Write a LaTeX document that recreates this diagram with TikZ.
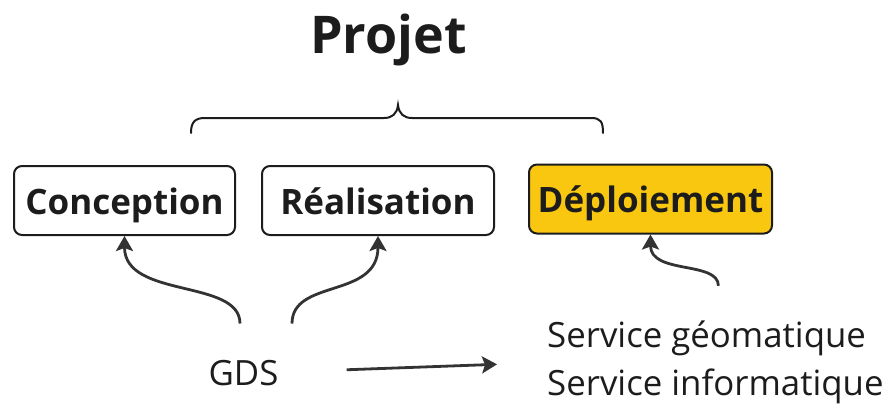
\documentclass[tikz,border=0pt]{standalone}
\usepackage{fontspec}
\setmainfont{Open Sans}
\usepackage{xcolor}
\usepackage{tikz}
\usetikzlibrary{arrows.meta, positioning}
\definecolor{ink}{HTML}{1C1C1C}
\definecolor{wire}{HTML}{333333}
\definecolor{yel}{HTML}{FAC710}

\begin{document}
\begin{tikzpicture}[x=1pt,y=-1pt,
	box/.style={draw=ink, line width=2pt, rounded corners=8pt, minimum height=69pt,
		text height=33pt, text depth=6pt, inner sep=0pt, text=ink,
		font=\bfseries\fontsize{35}{40}\selectfont},
	txt/.style={inner sep=0pt, text=ink, font=\fontsize{34.8}{48}\selectfont},
	arr/.style={draw=wire, line width=2.8pt, -{Stealth[length=15pt,width=17pt,inset=3pt]}}]
\useasboundingbox (0,0) rectangle (892,404);

\node(projet)[anchor=base, text=ink, font=\bfseries\fontsize{52}{60}\selectfont] at (388.5,54) {Projet};

\node(concep)[box, minimum width=221pt] at (124.5,200.5) {Conception};
\node(real)[box, minimum width=232pt] at (378,200.5) {Réalisation};
\node(deploi)[box, fill=yel, minimum width=243pt] at (650.5,199) {Déploiement};

\node(gds)[txt] at (243.5,373.5) {GDS};
\node(serv)[txt, align=left, anchor=west] at (547,362.5) {Service géomatique\\Service informatique};

\draw[draw=ink, line width=2pt, line cap=round]
	(191,133) .. controls (191,122) and (195,118) .. (205,118) -- (384,118)
	.. controls (392,118) and (397,114) .. (398,105)
	.. controls (399,114) and (404,118) .. (412,118) -- (591,118)
	.. controls (601,118) and (603,122) .. (603,133);

\draw[arr] (gds.north) ++(-3.5,-37) .. controls +(0,-45) and +(0,63) .. (concep.south);
\draw[arr] (gds.north) ++(48.5,-37) .. controls +(0,-45) and +(0,63) .. (real.south);
\draw[arr] (serv.north) ++(3,-35) .. controls +(0,-25) and +(0,40) .. (deploi.south);
\draw	(gds) edge[arr, shorten <=68pt, shorten >=50pt] (serv.west);
\end{tikzpicture}
\end{document}
